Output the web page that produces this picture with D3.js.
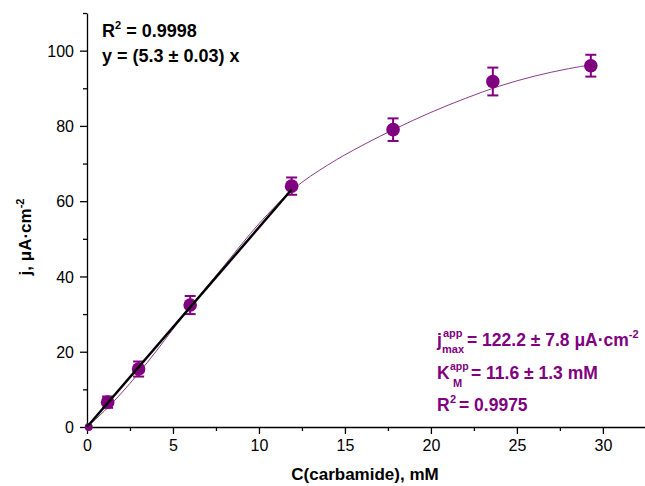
<!DOCTYPE html>
<html>
<head>
<meta charset="utf-8">
<script src="https://cdn.jsdelivr.net/npm/d3@7"></script>
<style>
  body { margin: 0; background: #fff; }
  svg { font-family: "Liberation Sans", Arial, sans-serif; }
  .axis path, .axis line { stroke: #000; stroke-width: 1.3; }
  .axis text { font-size: 16px; fill: #000; }
</style>
</head>
<body>
<svg width="645" height="486"></svg>
<script>
var WIDTH = 645;
var HEIGHT = 486;
var PURPLE = "#800080";

// measured points: concentration (mM), current density, error
var conc = [0.1, 1.2, 3.0, 6.0, 11.9, 17.8, 23.6, 29.3];
var current = [0, 6.6, 15.4, 32.4, 64.0, 79.0, 91.8, 96.0];
var errors = [0, 1.5, 2.0, 2.4, 2.3, 3.0, 3.7, 2.9];

// fitted saturation curve
var curveX = [0, 1, 2, 3, 4, 5, 6, 8, 10, 12, 14, 16, 18, 20, 22, 24, 26, 28, 29.4];
var curveY = [0, 4.2, 9, 14.3, 20, 26, 31.8, 43, 54, 63.2, 69.6, 74.8, 79.4, 83.6, 87.3, 90.6, 93.2, 95.2, 96.3];

// linear fit over the low-concentration range
var lineX = [0, 11.9];
var lineY = [0, 63.1];

var xTicks = [0, 5, 10, 15, 20, 25, 30];
var yTicks = [0, 20, 40, 60, 80, 100];
var xMinor = [2.5, 7.5, 12.5, 17.5, 22.5, 27.5];
var yMinor = [10, 30, 50, 70, 90, 110];

var svg = d3.select("svg");

var x = d3.scaleLinear().domain([0, 32.45]).range([87, 645]);
var y = d3.scaleLinear().domain([0, 110]).range([427, 13]);

// minor ticks
svg.append("g")
    .attr("class", "axis")
    .attr("transform", "translate(0,427)")
    .call(d3.axisBottom(x).tickValues(xMinor).tickSize(4).tickFormat(""))
    .select(".domain").remove();
svg.append("g")
    .attr("class", "axis")
    .attr("transform", "translate(87,0)")
    .call(d3.axisLeft(y).tickValues(yMinor).tickSize(4).tickFormat(""))
    .select(".domain").remove();

svg.append("g")
    .attr("class", "axis")
    .attr("transform", "translate(0,427)")
    .call(d3.axisBottom(x).tickValues(xTicks).tickSize(7).tickSizeOuter(0).tickPadding(6));

var yAxis = svg.append("g")
    .attr("class", "axis")
    .attr("transform", "translate(87,0)")
    .call(d3.axisLeft(y).tickValues(yTicks).tickSize(7).tickSizeOuter(0).tickPadding(6));
yAxis.selectAll("text").attr("dy", "0.36em");

// fit curve
var pts = curveX.map(function(d, i) { return [d, curveY[i]]; });
svg.append("path")
    .datum(pts)
    .attr("fill", "none")
    .attr("stroke", "#8a3c8a")
    .attr("stroke-width", 1)
    .attr("d", d3.line().x(function(d) { return x(d[0]); }).y(function(d) { return y(d[1]); }).curve(d3.curveMonotoneX));

// error bars
var pg = svg.append("g").attr("stroke", PURPLE).attr("stroke-width", 2);
conc.forEach(function(c, i) {
    if (errors[i] === 0) return;
    var cx = x(c);
    pg.append("line").attr("x1", cx).attr("x2", cx)
        .attr("y1", y(current[i] - errors[i])).attr("y2", y(current[i] + errors[i]));
    [current[i] - errors[i], current[i] + errors[i]].forEach(function(v) {
        pg.append("line").attr("x1", cx - 5.5).attr("x2", cx + 5.5)
            .attr("y1", y(v)).attr("y2", y(v));
    });
});

// points
svg.selectAll("circle.pt")
    .data(conc)
    .enter()
    .append("circle")
    .attr("class", "pt")
    .attr("cx", function(d) { return x(d); })
    .attr("cy", function(d, i) { return y(current[i]); })
    .attr("r", function(d, i) { return i === 0 ? 4 : 6.8; })
    .attr("fill", PURPLE);

// linear fit line
svg.append("line")
    .attr("x1", x(lineX[0])).attr("y1", y(lineY[0]))
    .attr("x2", x(lineX[1])).attr("y2", y(lineY[1]))
    .attr("stroke", "#000")
    .attr("stroke-width", 2.5);

// axis titles
svg.append("text")
    .attr("x", 365).attr("y", 480)
    .attr("text-anchor", "middle")
    .attr("font-size", 17).attr("font-weight", "bold")
    .text("C(carbamide), mM");

var yl = svg.append("text")
    .attr("transform", "translate(31,237) rotate(-90)")
    .attr("text-anchor", "middle")
    .attr("font-size", 17).attr("font-weight", "bold");
yl.append("tspan").text("j, \u03bcA\u00b7cm");
yl.append("tspan").attr("font-size", 11).attr("dy", -7).text("-2");

// linear fit annotation
var t1 = svg.append("text").attr("x", 102).attr("y", 37)
    .attr("font-size", 18).attr("font-weight", "bold");
t1.append("tspan").text("R");
t1.append("tspan").attr("font-size", 11).attr("dy", -8).text("2");
t1.append("tspan").attr("dy", 8).text(" = 0.9998");

svg.append("text").attr("x", 102).attr("y", 62)
    .attr("font-size", 18).attr("font-weight", "bold")
    .text("y = (5.3 \u00b1 0.03) x");

// Michaelis-Menten annotation
var ann = svg.append("g").attr("fill", PURPLE).attr("font-weight", "bold");

ann.append("text").attr("x", 437).attr("y", 346).attr("font-size", 17.5).text("j");
ann.append("text").attr("x", 443).attr("y", 337).attr("font-size", 11).text("app");
ann.append("text").attr("x", 442).attr("y", 353).attr("font-size", 11).text("max");
var a1b = ann.append("text").attr("x", 467).attr("y", 346).attr("font-size", 17.5);
a1b.append("tspan").text("= 122.2 \u00b1 7.8 \u03bcA\u00b7cm");
a1b.append("tspan").attr("font-size", 11).attr("dy", -8).text("-2");

ann.append("text").attr("x", 437).attr("y", 379).attr("font-size", 17.5).text("K");
ann.append("text").attr("x", 450).attr("y", 370).attr("font-size", 10.5).text("app");
ann.append("text").attr("x", 453).attr("y", 387).attr("font-size", 11).text("M");
ann.append("text").attr("x", 471).attr("y", 379).attr("font-size", 17.5).text("= 11.6 \u00b1 1.3 mM");

ann.append("text").attr("x", 437).attr("y", 411).attr("font-size", 17.5).text("R");
ann.append("text").attr("x", 450).attr("y", 403).attr("font-size", 11).text("2");
ann.append("text").attr("x", 459).attr("y", 411).attr("font-size", 17.5).text("= 0.9975");
</script>
</body>
</html>
